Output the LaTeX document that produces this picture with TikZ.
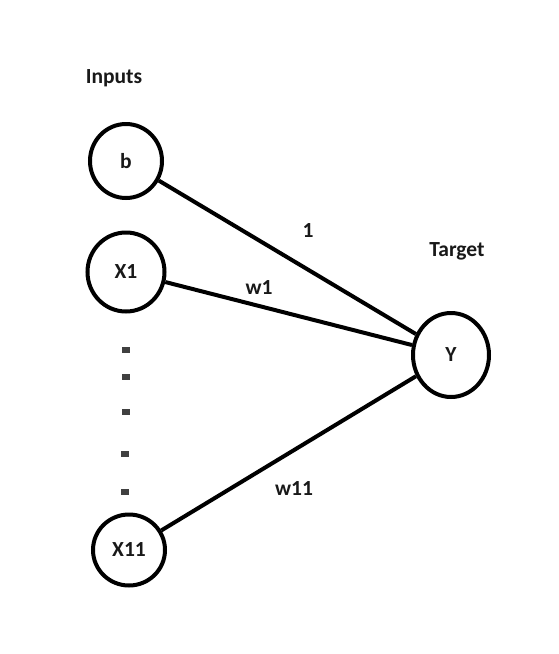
\documentclass[tikz,border=0pt]{standalone}
\usepackage{fontspec}
\setmainfont{Carlito}
\usetikzlibrary{shapes.geometric}
\begin{document}
\begin{tikzpicture}[x=1pt,y=-1pt,
  neuron/.style={draw=black,line width=4pt,ellipse,inner sep=0pt},
  lbl/.style={font=\fontsize{21.5}{23}\selectfont\bfseries,text=black!90,inner sep=0pt},
  conn/.style={line width=4pt,black},
  dotmark/.style={fill=black!75,draw=none,minimum width=8pt,minimum height=6.5pt,inner sep=0pt,rectangle}]
\useasboundingbox (0,0) rectangle (559,654);
\fill[white] (0,0) rectangle (559,654);
\node[neuron,minimum width=72pt,minimum height=74pt,lbl] (b) at (126,161) {b};
\node[neuron,minimum width=77pt,minimum height=79pt,lbl] (x1) at (126,272) {X1};
\node[neuron,minimum width=72pt,minimum height=71pt,lbl] (x11) at (129,550) {X11};
\node[neuron,minimum width=76pt,minimum height=84pt,lbl] (y) at (451,355) {Y};
\node[lbl] (inputs) at (114,78) {Inputs};
\node[lbl] (target) at (457,251) {Target};
\node[lbl] (l1) at (308,231) {1};
\node[lbl] (lw1) at (259,288) {w1};
\node[lbl] (lw11) at (294,489) {w11};
\node[dotmark] (d1) at (126,350) {};
\node[dotmark] (d2) at (126,377) {};
\node[dotmark] (d3) at (126,412) {};
\node[dotmark] (d4) at (125,454) {};
\node[dotmark] (d5) at (125,492) {};
\draw[conn] (b) -- (y);
\draw[conn] (x1) -- (y);
\draw[conn] (x11) -- (y);
\end{tikzpicture}
\end{document}
